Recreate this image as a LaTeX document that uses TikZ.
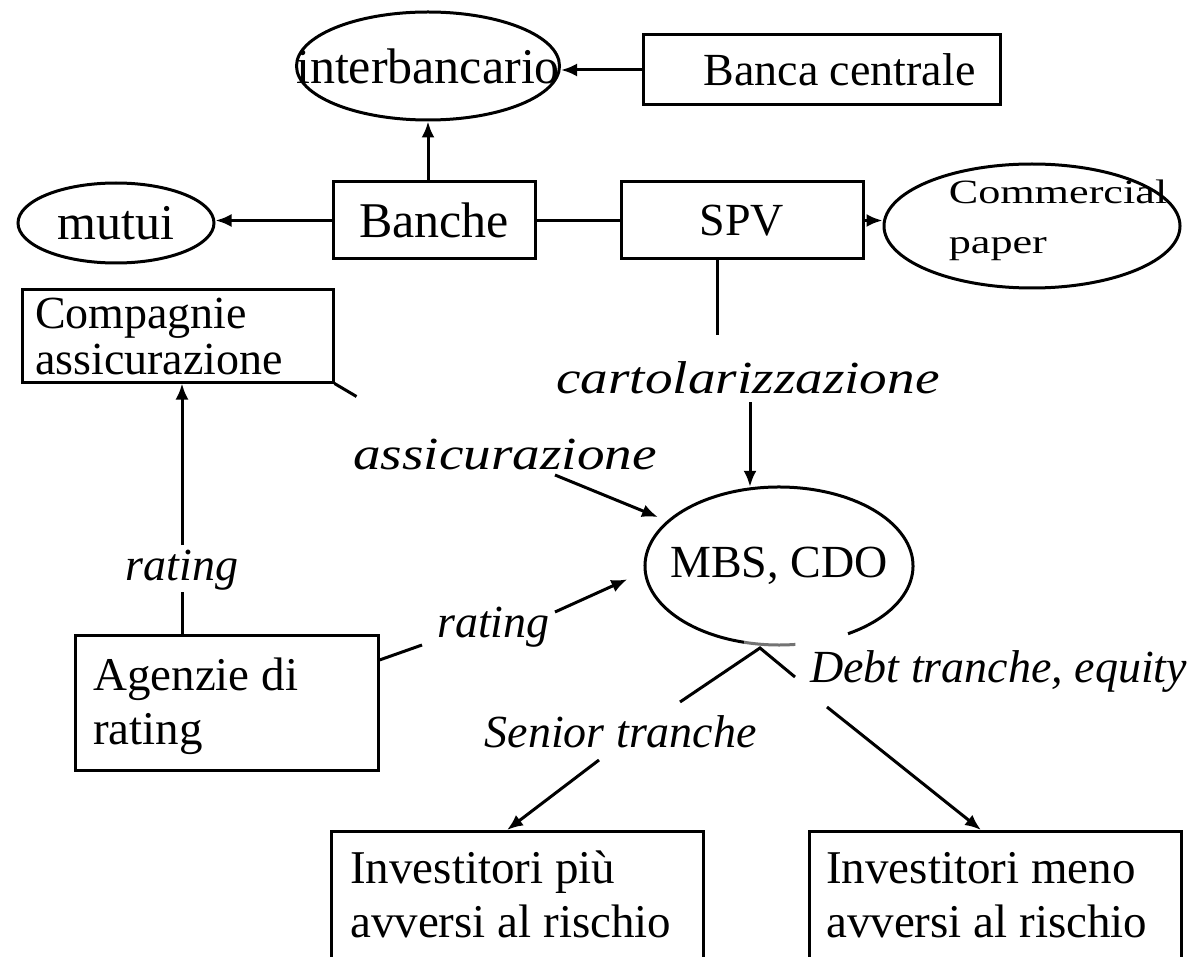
\documentclass[tikz,border=0pt]{standalone}
\usepackage{fontspec}
\setmainfont{Liberation Serif}
\usepackage{graphicx}
\usetikzlibrary{shapes.geometric,arrows.meta,calc}
\newcommand{\wlab}[1]{\scalebox{1.2}[1]{#1}}
\newcommand{\lines}[2]{\def\arraystretch{1}\begin{tabular}[t]{@{}l@{}}#1\\#2\end{tabular}}
\begin{document}
\begin{tikzpicture}[x=1pt,y=-1pt,
 every node/.append style={font=\fontsize{46}{46}\selectfont},
 box/.style={draw, rectangle, line width=3pt, inner sep=0pt},
 oval/.style={draw, ellipse, line width=3pt, inner sep=0pt},
 txt/.style={inner sep=0pt, anchor=base west, font=\fontsize{47}{54}\selectfont},
 lab/.style={font=\fontsize{46}{46}\selectfont\itshape, inner sep=0pt},
 con/.style={line width=3pt},
 arr/.style={line width=3pt, -{Latex[length=16pt,width=13pt]}}]
\useasboundingbox (0,0) rectangle (1193,957);
\fill[white] (0,0) rectangle (1193,957);

% nodes
\node[oval, minimum width=263, minimum height=108, font=\fontsize{50}{50}\selectfont] (inter) at (428,66) {\makebox[0pt]{interbancario}};
\node[box, minimum width=357, minimum height=70] (bc) at (821.5,70) {\hspace*{36pt}Banca centrale};
\node[box, minimum width=202, minimum height=77, font=\fontsize{50}{50}\selectfont] (banche) at (434,220.5) {Banche};
\node[oval, minimum width=196, minimum height=80, font=\fontsize{50}{50}\selectfont] (mutui) at (116,223) {\makebox[0pt]{mutui}};
\node[box, minimum width=242, minimum height=77] (spv) at (742,220.5) {SPV};
\node[oval, minimum width=296, minimum height=124] (cp) at (1032,226) {};
\node[inner sep=0pt, align=left, font=\fontsize{34}{50}\selectfont] (cpt) at (1058,220)
  {\scalebox{1.3}[1]{Commercial}\\\scalebox{1.3}[1]{paper}};
\node[box, minimum width=311, minimum height=92, text width=285, inner xsep=13, align=left] (comp) at (177.5,336) {Compagnie\\assicurazione};
\node[box, minimum width=303, minimum height=135] (agz) at (226.5,702.5) {};
\node[txt] (agzt) at (93,690) {\lines{Agenzie di}{rating}};
\node[ellipse, minimum width=268, minimum height=158, inner sep=0pt] (mbs) at (779,566) {MBS, CDO};
\node[box, anchor=north west, minimum width=372, minimum height=160] (inv1) at (330,830) {};
\node[txt] (inv1t) at (350,883) {\lines{Investitori più}{avversi al rischio}};
\node[box, anchor=north west, minimum width=372, minimum height=160] (inv2) at (808,830) {};
\node[txt] (inv2t) at (826,883) {\lines{Investitori meno}{avversi al rischio}};

% open ellipse outline of MBS, CDO
\draw[con] ([shift={(-59:134pt and 79pt)}]mbs.center) arc[start angle=-59, end angle=255, x radius=134pt, y radius=79pt];
\draw[line width=3pt, black!55] ([shift={(255:134pt and 79pt)}]mbs.center) arc[start angle=255, end angle=277, x radius=134pt, y radius=79pt];

% labels
\node[lab] (cartl) at (748,378) {\wlab{cartolarizzazione}};
\node[lab] (assl) at (505,455) {\wlab{assicurazione}};
\node[lab] (rat1) at (182,570) {rating};
\node[lab, anchor=base west] (rat2) at (437,637) {rating};
\node[lab, anchor=base east] (senl) at (757,747) {Senior tranche};
\node[lab, anchor=base west] (debtl) at (810,682) {Debt tranche, equity};

% free ends
\coordinate (c1) at (717,335);
\coordinate (c2) at (750,402);
\coordinate (a1) at (555,475);
\coordinate (r2e) at (422,645);
\coordinate (r2s) at (555,612);
\coordinate (v1) at (182,592);
\coordinate (v2) at (182,545);
\coordinate (J) at (760,648);
\coordinate (sen) at (680,702);
\coordinate (deb) at (795,677);
\coordinate (s1) at (599,760);
\coordinate (s2) at (507,830);
\coordinate (d1) at (827,707);
\coordinate (d2) at (981,830);

% connectors
\draw[arr] (bc.west) -- (bc.west -| inter.east);
\draw[arr] (banche.north -| inter.south) -- (inter.south);
\draw[arr] (banche.west) -- (banche.west -| mutui.east);
\draw[con] (banche.east) -- (spv.west);
\draw[arr] (spv.east) -- (spv.east -| cp.west);
\draw[con] (c1 |- spv.south) -- (c1);
\draw[arr] (c2) -- (c2 |- mbs.north);
\draw[con] (comp.south east) -- ++(22,13);
\draw[arr] (a1) -- (mbs.158);
\draw[con] (agz.east |- 0,660) -- (r2e);
\draw[arr] (r2s) -- (mbs.185);
\draw[con] (v1 |- agz.north) -- (v1);
\draw[arr] (v2) -- (v2 |- comp.south);
\draw[con] (sen) -- (J) -- (deb);
\draw[arr] (s1) -- (s2);
\draw[arr] (d1) -- (d2);
\end{tikzpicture}
\end{document}
